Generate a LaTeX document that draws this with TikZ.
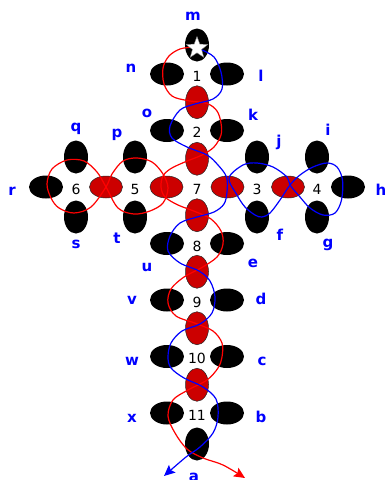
\documentclass[tikz,border=0pt]{standalone}
\usepackage{fontspec}
\setmainfont{DejaVu Sans}
\usetikzlibrary{shapes.geometric,arrows.meta}
\definecolor{ovalred}{RGB}{204,0,0}
\tikzset{
  peghor/.style={ellipse,fill=black,minimum width=34pt,minimum height=23pt,inner sep=0pt},
  pegver/.style={ellipse,fill=black,minimum width=24pt,minimum height=33pt,inner sep=0pt},
  redver/.style={ellipse,fill=ovalred,draw=black!85,line width=0.5pt,minimum width=23pt,minimum height=33pt,inner sep=0pt},
  redhor/.style={ellipse,fill=ovalred,draw=black!85,line width=0.5pt,minimum width=33pt,minimum height=22pt,inner sep=0pt},
  numtext/.style={font=\fontsize{14}{14}\selectfont,inner sep=0pt},
  lab/.style={text=blue,font=\bfseries\fontsize{15}{15}\selectfont,anchor=base,inner sep=0pt},
  redline/.style={draw=red,line width=1.2pt},
  blueline/.style={draw=blue,line width=1.2pt},
  tipstyle/.style={-{Stealth[length=11pt,width=10pt,inset=2pt]}}
}
\begin{document}
\begin{tikzpicture}[x=1pt,y=-1pt]
\useasboundingbox (0,0) rectangle (386,480);
\node[pegver] (topoval) at (197,45) {};
\node[pegver] (botoval) at (197,444) {};
\node[peghor] (pn) at (167,74) {};
\node[peghor] (pl) at (227,74) {};
\node[peghor] (po) at (167,130.5) {};
\node[peghor] (pk) at (227,130.5) {};
\node[peghor] (pu) at (167,243.5) {};
\node[peghor] (pe) at (227,243.5) {};
\node[peghor] (pv) at (167,300) {};
\node[peghor] (pd) at (227,300) {};
\node[peghor] (pw) at (167,356.5) {};
\node[peghor] (pc) at (227,356.5) {};
\node[peghor] (px) at (167,413) {};
\node[peghor] (pb) at (227,413) {};
\node[peghor] (pr) at (46,187) {};
\node[pegver] (pq) at (76,157) {};
\node[pegver] (ps) at (76,217) {};
\node[pegver] (pp) at (135,157) {};
\node[pegver] (pt) at (135,217) {};
\node[pegver] (pj) at (257,157) {};
\node[pegver] (pf) at (257,217) {};
\node[pegver] (pi) at (317,157) {};
\node[pegver] (pg) at (317,217) {};
\node[peghor] (ph) at (348,187) {};
\node[redver] (r12) at (197,102.25) {};
\node[redver] (r27) at (197,158.75) {};
\node[redver] (r78) at (197,215.25) {};
\node[redver] (r89) at (197,271.75) {};
\node[redver] (r910) at (197,328.25) {};
\node[redver] (r1011) at (197,384.75) {};
\node[redhor] (r56) at (106,187) {};
\node[redhor] (r57) at (166.5,187) {};
\node[redhor] (r73) at (227.5,187) {};
\node[redhor] (r34) at (288,187) {};
\node[numtext] (n1) at (197,76.5) {1};
\node[numtext] (n2) at (197,132.5) {2};
\node[numtext] (n7) at (197,189) {7};
\node[numtext] (n8) at (197,246) {8};
\node[numtext] (n9) at (197,302) {9};
\node[numtext] (n10) at (197,358.5) {10};
\node[numtext] (n11) at (197,415) {11};
\node[numtext] (n6) at (76,189) {6};
\node[numtext] (n5) at (135,189) {5};
\node[numtext] (n3) at (257,189) {3};
\node[numtext] (n4) at (317,189) {4};
\draw[redline] plot[smooth cycle,tension=0.55] coordinates {
 (106,187) (112,174) (123,161) (137,158) (152,162) (163,174) (168,188)
 (163,203) (150,211) (134,214) (118,208) (106,187) (97,172) (84,161)
 (67,160) (52,169) (47,184) (51,198) (59,208) (74,213) (91,207)};
\draw[blueline] plot[smooth cycle,tension=0.55] coordinates {
 (229,178) (243,165) (257,163) (273,167) (287,177) (290,185) (300,197)
 (310,208) (323,215) (335,213) (341.5,200) (342.5,180) (337,167) (327,163)
 (313,167) (300,175) (290,185) (280,200) (270,213) (262,217) (255,215)
 (245,207) (237,195)};
\draw[redline,tipstyle] plot[smooth,tension=0.55] coordinates {
 (193,47) (180,49) (169,56) (163,68) (164,84) (172,96) (187,100.5) (207,103.5)
 (217,111) (221,123) (221,135) (214,147) (202,155) (186,161.5) (171,168.5)
 (163,176) (161,187) (165,197) (178,205) (195,211.5) (211,219) (221,231)
 (223,244) (217,257) (201,268) (184,277) (171,289) (168,303) (176,316)
 (196,323.5) (213,331) (222,343) (222,357) (218,368) (207,380) (188,390)
 (173,400) (168,416) (175,433) (187,449) (203,458) (223,465) (245,478)};
\draw[blueline,tipstyle] plot[smooth,tension=0.55] coordinates {
 (202,50) (214,57) (221,72) (222,89) (213,99) (195,104) (180,110) (170,126)
 (172,138) (187,147) (207,155) (218,165) (226.5,177) (227,192) (224,204)
 (214,212) (197,217) (180,223) (170,236) (168,251) (180,263) (199,271)
 (210,281) (215,297) (212,313) (200,324) (182,331) (171,343) (168,357)
 (171,368) (184,378) (203,387) (216,399) (218,417) (213,433) (200,447)
 (186,457) (164,476)};
\node[star,star points=5,star point ratio=2.4,minimum size=23pt,inner sep=0pt,fill=white,draw=black!50,line width=0.4pt] (starm) at (197,48) {};
\node[lab] (lm) at (193,20.5) {m};
\node[lab] (ln) at (131,72) {n};
\node[lab] (ll) at (261,81.5) {l};
\node[lab] (lo) at (147,117) {o};
\node[lab] (lk) at (253,120) {k};
\node[lab] (lq) at (76,131) {q};
\node[lab] (lp) at (117,137) {p};
\node[lab] (lr) at (12,195) {r};
\node[lab] (ls) at (76,248) {s};
\node[lab] (ltt) at (117,243) {t};
\node[lab] (lj) at (279,146) {j};
\node[lab] (li) at (328,135) {i};
\node[lab] (lh) at (381,195) {h};
\node[lab] (lf) at (280,240) {f};
\node[lab] (lg) at (328,247) {g};
\node[lab] (lu) at (147,271) {u};
\node[lab] (le) at (253,267) {e};
\node[lab] (lv) at (132,304) {v};
\node[lab] (ld) at (261,304) {d};
\node[lab] (lw) at (132,365) {w};
\node[lab] (lc) at (262,365) {c};
\node[lab] (lx) at (132,422) {x};
\node[lab] (lb) at (261,422) {b};
\node[lab] (la) at (194,481) {a};
\end{tikzpicture}
\end{document}
